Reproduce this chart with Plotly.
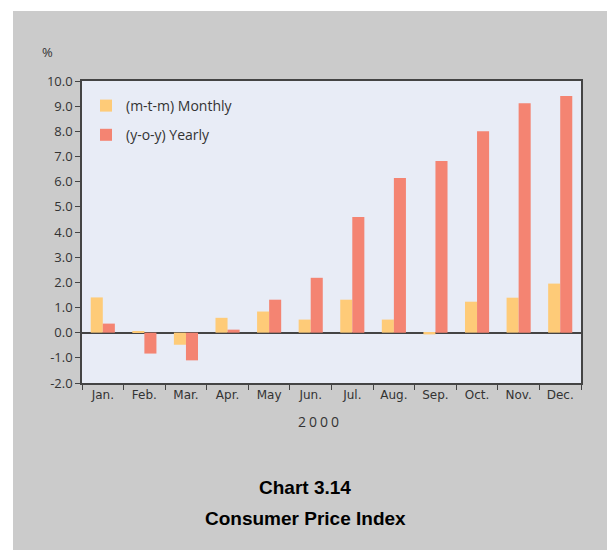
import plotly.graph_objects as go

months = ["Jan.", "Feb.", "Mar.", "Apr.", "May", "Jun.", "Jul.", "Aug.", "Sep.", "Oct.", "Nov.", "Dec."]
monthly = [1.4, 0.05, -0.48, 0.59, 0.84, 0.52, 1.31, 0.52, -0.07, 1.23, 1.39, 1.95]
yearly = [0.36, -0.83, -1.1, 0.12, 1.31, 2.18, 4.6, 6.15, 6.82, 8.0, 9.12, 9.4]
y_ticks = [-2, -1, 0, 1, 2, 3, 4, 5, 6, 7, 8, 9, 10]
y_tick_labels = ["-2.0", "-1.0", "0.0", "1.0", "2.0", "3.0", "4.0", "5.0",
                 "6.0", "7.0", "8.0", "9.0", "10.0"]

FONT = "Open Sans"
TXT = "#333333"

fig = go.Figure()
fig.add_trace(go.Bar(x=months, y=monthly, name="(m-t-m) Monthly",
                     marker=dict(color="#FECB78", line=dict(width=0)), legendgroup="a"))
fig.add_trace(go.Bar(x=months, y=yearly, name="(y-o-y) Yearly",
                     marker=dict(color="#F48472", line=dict(width=0)), legendgroup="b"))

# page body has an 8px margin; work in screen pixels and convert
OFF = 8
W, H = 615 - OFF, 550 - OFF
L, T = 82 - OFF, 81 - OFF
R = W - (581 - OFF)
B = H - (383 - OFF)
pw, ph = W - L - R, H - T - B

def px(xs):
    return (xs - OFF - L) / pw

def py(ys):
    return (H - B - (ys - OFF)) / ph

fig.update_layout(
    width=W, height=H,
    margin=dict(l=L, r=R, t=T, b=B),
    paper_bgcolor="white",
    plot_bgcolor="rgba(0,0,0,0)",
    barmode="group",
    bargap=0.42,
    bargroupgap=0,
    font=dict(family=FONT, color=TXT),
    showlegend=True,
    legend=dict(x=px(86), y=py(90), xanchor="left", yanchor="top",
                bgcolor="rgba(0,0,0,0)", font=dict(size=14, color=TXT),
                traceorder="grouped", tracegroupgap=8),
    shapes=[
        dict(type="rect", xref="paper", yref="paper", layer="below",
             x0=px(13), x1=px(640), y0=py(580), y1=py(11),
             fillcolor="#CBCBCB", line=dict(width=0)),
        dict(type="rect", xref="paper", yref="paper", layer="below",
             x0=0, x1=1, y0=0, y1=1, fillcolor="#E8ECF6", line=dict(width=0)),
    ],
    annotations=[
        dict(text="%", xref="paper", yref="paper", x=px(47), y=py(52),
             xanchor="center", yanchor="middle",
             showarrow=False, font=dict(size=13, color=TXT)),
        dict(text='<span style="letter-spacing:3px">2000</span>', xref="paper", yref="paper",
             x=px(320), y=py(422), xanchor="center", yanchor="middle",
             showarrow=False, font=dict(size=14, color=TXT)),
        dict(text="<b>Chart 3.14</b>", xref="paper", yref="paper", x=px(305), y=py(488),
             xanchor="center", yanchor="middle",
             showarrow=False, font=dict(size=19, color="black", family="Liberation Sans")),
        dict(text="<b>Consumer Price Index</b>", xref="paper", yref="paper", x=px(305), y=py(518),
             xanchor="center", yanchor="middle",
             showarrow=False, font=dict(size=19, color="black", family="Liberation Sans")),
    ],
)

fig.update_xaxes(
    type="category", tickson="boundaries", ticks="outside", ticklen=5,
    tickcolor="#444", showline=True, linecolor="#444", linewidth=1.5, mirror=True,
    showgrid=False, tickfont=dict(size=12, color=TXT, family="DejaVu Sans"),
)
fig.update_yaxes(
    range=[-2, 10], tickvals=y_ticks, ticktext=y_tick_labels, ticks="outside", ticklen=5,
    tickcolor="#444", showline=True, linecolor="#444", linewidth=1.5, mirror=True,
    showgrid=False, zeroline=True, zerolinecolor="#444", zerolinewidth=1.5,
    tickfont=dict(size=13, color=TXT),
)

fig.write_html("out.html")
